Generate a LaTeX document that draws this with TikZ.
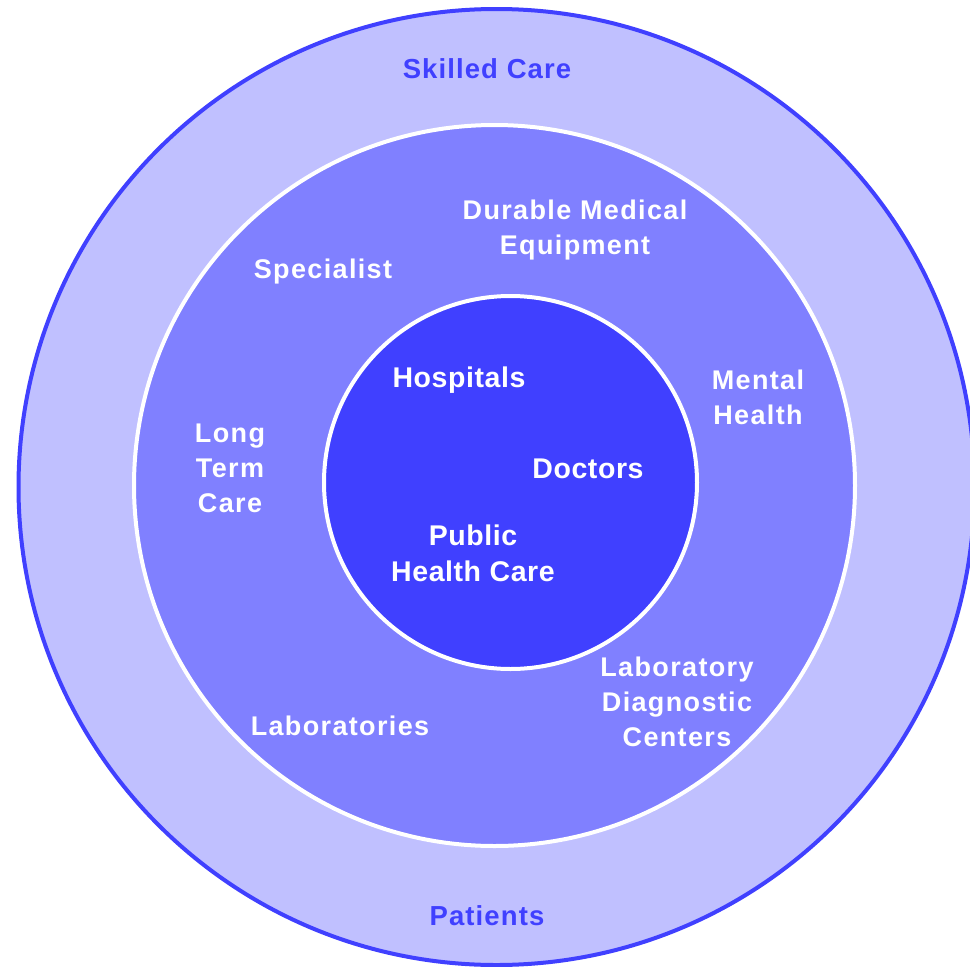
\documentclass[tikz,border=0pt]{standalone}
\usepackage{fontspec}
\setmainfont{Liberation Sans}
\newfontfamily\ofont[LetterSpace=4]{Liberation Sans}
\newfontfamily\mfont[LetterSpace=5]{Liberation Sans}
\newfontfamily\ifont[LetterSpace=2]{Liberation Sans}
\definecolor{ringA}{HTML}{C0C0FF}
\definecolor{ringB}{HTML}{8080FF}
\definecolor{ringC}{HTML}{4040FF}
\tikzset{
  ring/.style={circle, inner sep=0pt, line width=4pt},
  outerlbl/.style={text=ringC, font=\ofont\bfseries\fontsize{27.5}{35}\selectfont, align=center, inner sep=0pt},
  midlbl/.style={text=white, font=\mfont\bfseries\fontsize{27}{35}\selectfont, align=center, inner sep=0pt},
  innerlbl/.style={text=white, font=\ifont\bfseries\fontsize{28.5}{36}\selectfont, align=center, inner sep=0pt}
}
\begin{document}
\begin{tikzpicture}[x=1pt,y=-1pt]
\useasboundingbox (0,0) rectangle (970,967);
\fill[white] (0,0) rectangle (970,967);
\node (outer) [ring, draw=ringC, fill=ringA, minimum size=956pt] at (496.5,487) {};
\node (middle) [ring, draw=white, fill=ringB, minimum size=721pt] at (494.5,485.5) {};
\node (inner) [ring, draw=white, fill=ringC, minimum size=373pt] at (510.5,482.5) {};
% outer ring labels
\node (skilled) [outerlbl] at (487,69) {Skilled Care};
\node (patients) [outerlbl] at (487,916) {Patients};
% middle ring labels
\node (dme) [midlbl] at (575,230.5) {Durable Medical\\Equipment};
\node (spec) [midlbl] at (323,271.5) {Specialist};
\node (mental) [midlbl] at (758,397.5) {Mental\\Health};
\node (ltc) [midlbl] at (230,468.5) {Long\\Term\\Care};
\node (labs) [midlbl] at (340,725.5) {Laboratories};
\node (ldc) [midlbl] at (677,701.5) {Laboratory\\Diagnostic\\Centers};
% inner labels
\node (hosp) [innerlbl] at (459,380) {Hospitals};
\node (docs) [innerlbl] at (588,469) {Doctors};
\node (phc) [innerlbl] at (473,553) {Public\\Health Care};
\end{tikzpicture}
\end{document}
